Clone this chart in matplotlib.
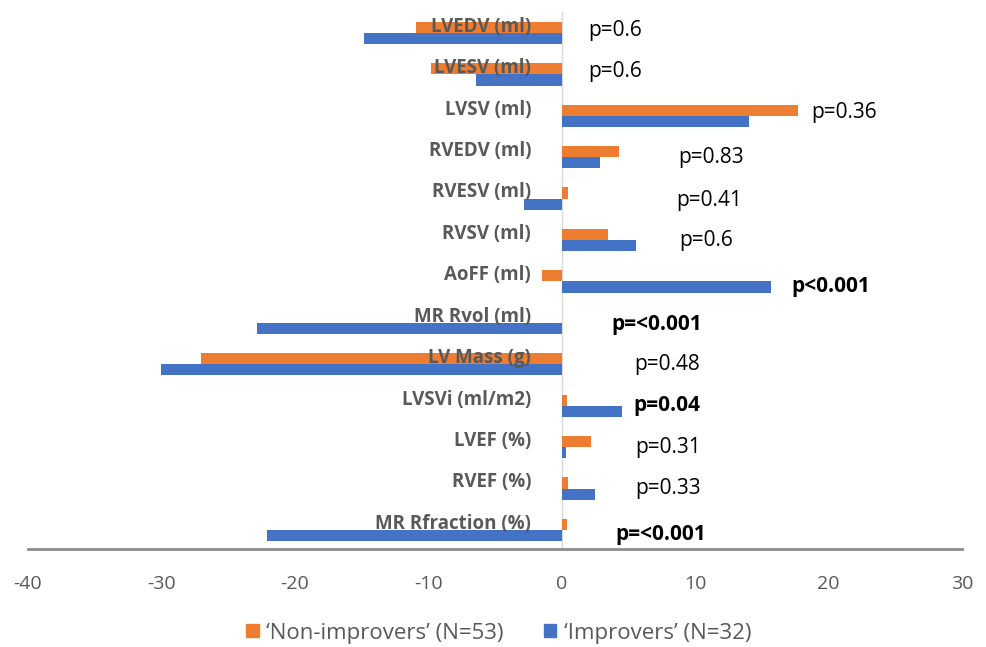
import matplotlib
matplotlib.use("Agg")
import matplotlib.pyplot as plt
from matplotlib.patches import Patch
import numpy as np

plt.rcParams["axes.unicode_minus"] = False

categories = ["LVEDV (ml)", "LVESV (ml)", "LVSV (ml)", "RVEDV (ml)", "RVESV (ml)",
              "RVSV (ml)", "AoFF (ml)", "MR Rvol (ml)", "LV Mass (g)", "LVSVi (ml/m2)",
              "LVEF (%)", "RVEF (%)", "MR Rfraction (%)"]
non_improvers = [-10.9, -9.8, 17.7, 4.3, 0.5, 3.5, -1.5, 0.0, -27.0, 0.4, 2.2, 0.5, 0.4]
improvers = [-14.8, -6.4, 14.0, 2.9, -2.8, 5.6, 15.7, -22.8, -30.0, 4.5, 0.3, 2.5, -22.1]
p_labels = ["p=0.6", "p=0.6", "p=0.36", "p=0.83", "p=0.41", "p=0.6", "p<0.001",
            "p=<0.001", "p=0.48", "p=0.04", "p=0.31", "p=0.33", "p=<0.001"]
p_bold = [False, False, False, False, False, False, True, True, False, True, False, False, True]
# annotation positions (data x, y offset from category centre)
p_x = [2.0, 2.0, 18.7, 8.7, 8.6, 8.8, 17.2, 3.7, 5.4, 5.4, 5.5, 5.5, 4.0]
p_dy = [-0.05, -0.08, -0.07, 0.0, 0.05, 0.0, 0.12, 0.04, 0.0, 0.0, 0.0, 0.0, 0.1]

ORANGE = "#ED7D31"
BLUE = "#4472C4"
GRAY = "#595959"
FONT = "Open Sans"

fig = plt.figure(figsize=(9.86, 6.47), dpi=100)
ax = fig.add_axes([28/986, 1 - 549/647, (962-28)/986, (549-12.3)/647])

n = len(categories)
y = np.arange(n)
h = 0.27
ax.barh(y - h/2, non_improvers, height=h, color=ORANGE, zorder=2)
ax.barh(y + h/2, improvers, height=h, color=BLUE, zorder=2)

ax.set_xlim(-40, 30)
ax.set_ylim(n - 0.54, -0.5)
ax.axvline(0, color="#D9D9D9", lw=1, zorder=1)

for s in ["top", "right", "left"]:
    ax.spines[s].set_visible(False)
ax.spines["bottom"].set_color("#8C8C8C")
ax.spines["bottom"].set_linewidth(2)
ax.set_yticks([])
ax.set_xticks(np.arange(-40, 31, 10))
ax.tick_params(axis="x", length=0, pad=19, labelsize=14, labelcolor=GRAY)
for lab in ax.get_xticklabels():
    lab.set_fontfamily(FONT)

for i, cat in enumerate(categories):
    ax.text(-2.3, i - 0.15, cat, ha="right", va="center", fontsize=13.5,
            fontweight="bold", color=GRAY, family=FONT, zorder=3)

for i, lab in enumerate(p_labels):
    ax.text(p_x[i], i + p_dy[i], lab, ha="left", va="center", fontsize=15,
            fontweight="bold" if p_bold[i] else "normal", color="black",
            family=FONT, zorder=3)

handles = [Patch(color=ORANGE, label="\u2018Non-improvers\u2019 (N=53)"),
           Patch(color=BLUE, label="\u2018Improvers\u2019 (N=32)")]
leg = fig.legend(handles=handles, loc="center", bbox_to_anchor=(499/986, 1 - 633/647),
                 ncol=2, frameon=False, handlelength=0.55, handleheight=0.55,
                 handletextpad=0.35, columnspacing=1.8,
                 prop={"family": FONT, "size": 16})
for t in leg.get_texts():
    t.set_color(GRAY)

fig.savefig("out.png", dpi=100)
